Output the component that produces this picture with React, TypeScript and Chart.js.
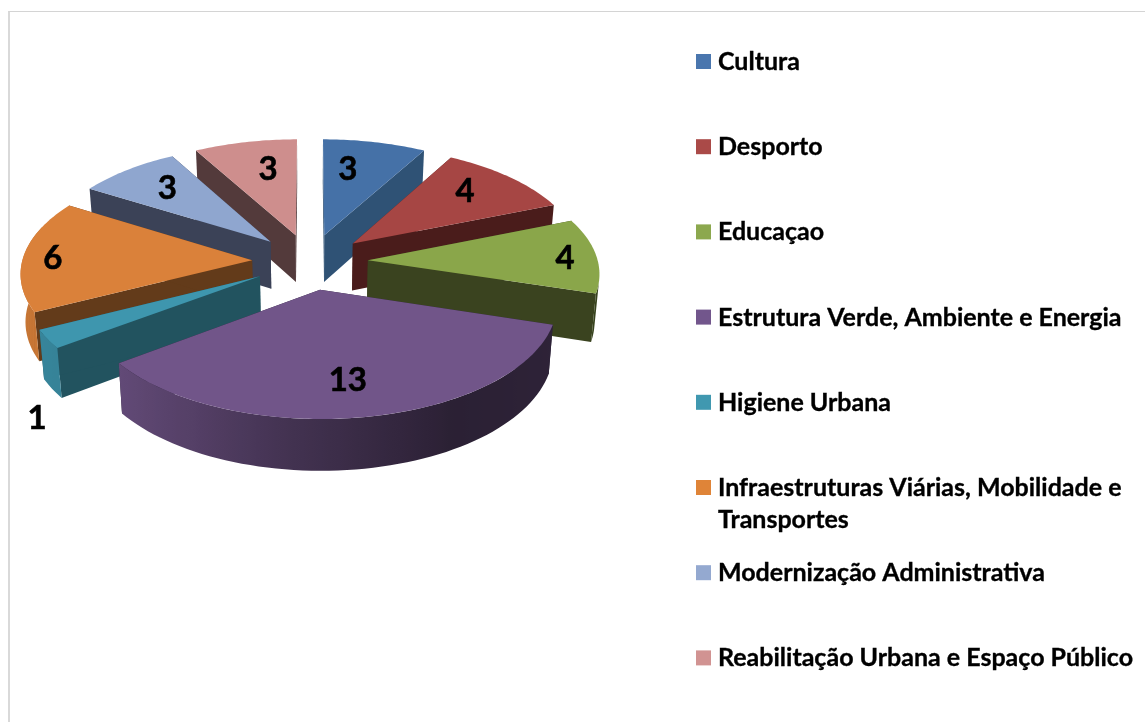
import React, { useEffect, useRef } from "react";
import { Chart, registerables } from "chart.js";

Chart.register(...registerables);

const categories = [
  "Cultura",
  "Desporto",
  "Educaçao",
  "Estrutura Verde, Ambiente e Energia",
  "Higiene Urbana",
  "Infraestruturas Viárias, Mobilidade e Transportes",
  "Modernização Administrativa",
  "Reabilitação Urbana e Espaço Público",
];
const values = [3, 4, 4, 13, 1, 6, 3, 3];
const topColors = ["#4571A7", "#A64644", "#8AA64A", "#715589", "#3E96AE", "#DA813A", "#8FA6CF", "#CE8E8D"];
const legendColors = ["#4A76AE", "#AA4A48", "#8CA84E", "#72568C", "#4098B0", "#DF8438", "#94A9D0", "#D19392"];
const wallColors = ["#2F5275", "#4A1C1B", "#3A431F", "#2B2238", "#22535F", "#633B1A", "#3B4257", "#533A3B"];
const labelAngles = [9.9, 46.2, 88.6, 171.7, 216.6, 271.4, 317.1, 348.5];
const labelRadii = [0.675, 0.735, 0.861, 0.733, 1.383, 0.87, 0.72, 0.68];

const PERSPECTIVE = 0.1;
const TILT = 0.48;
const DEPTH = 47.5;
const SHRINK = 0.017;

const shadeKnots: [number, number][] = [
  [0, 0.42], [90, 0.42], [150, 0.38], [185, 0.58], [210, 0.75], [233, 0.87], [260, 0.92], [360, 0.92],
];

function shadeFactor(deg: number) {
  const d = ((deg % 360) + 360) % 360;
  for (let i = 1; i < shadeKnots.length; i++) {
    const [a, fa] = shadeKnots[i - 1];
    const [b, fb] = shadeKnots[i];
    if (d <= b) return fa + ((fb - fa) * (d - a)) / (b - a);
  }
  return 0.9;
}

function shade(hex: string, f: number) {
  const n = parseInt(hex.slice(1), 16);
  const r = Math.round(((n >> 16) & 255) * f);
  const g = Math.round(((n >> 8) & 255) * f);
  const b = Math.round((n & 255) * f);
  return `rgb(${r},${g},${b})`;
}

const pie3d = {
  id: "pie3d",
  beforeDatasetsDraw(chart: any) {
    const ctx: CanvasRenderingContext2D = chart.ctx;
    const arcs = chart.getDatasetMeta(0).data;
    const slices = arcs.map((arc: any, i: number) => {
      const p = arc.getProps(["x", "y", "startAngle", "endAngle", "outerRadius"], true);
      const a0 = p.startAngle + Math.PI / 2;
      const a1 = p.endAngle + Math.PI / 2;
      const mid = (a0 + a1) / 2;
      const e = arc.options.offset;
      return { i, cx: p.x, cy: p.y, R: p.outerRadius, a0, a1, ax: e * Math.sin(mid), ay: e * Math.cos(mid), color: arc.options.backgroundColor };
    });

    const project = (s: any, wx: number, wy: number, z: number) => {
      const w = 1 / (1 + (PERSPECTIVE * wy) / s.R);
      const m = 1 - SHRINK * z;
      return [s.cx + wx * w * m, s.cy - TILT * wy * w + z * (DEPTH + 30 * (w - 1))];
    };
    const rim = (s: any, a: number, z: number) =>
      project(s, s.ax + s.R * Math.sin(a), s.ay + s.R * Math.cos(a), z);
    const apex = (s: any, z: number) => project(s, s.ax, s.ay, z);

    const poly = (pts: number[][], fill: any) => {
      ctx.beginPath();
      pts.forEach((q, n) => (n ? ctx.lineTo(q[0], q[1]) : ctx.moveTo(q[0], q[1])));
      ctx.closePath();
      ctx.fillStyle = fill;
      ctx.fill();
    };

    const order = [...slices].sort((p: any, q: any) => q.ay - p.ay);
    for (const s of order) {
      const wall = wallColors[s.i];
      poly([apex(s, 0), rim(s, s.a0, 0), rim(s, s.a0, 1), apex(s, 1)], wall);
      poly([apex(s, 0), rim(s, s.a1, 0), rim(s, s.a1, 1), apex(s, 1)], wall);

      // outer wall: only the part of the rim that faces the viewer
      const from = Math.max(s.a0, (100 * Math.PI) / 180);
      const to = Math.min(s.a1, (288 * Math.PI) / 180);
      if (to > from) {
        const steps = Math.max(6, Math.ceil(((to - from) * 180) / Math.PI / 2));
        const upper: number[][] = [];
        const lower: number[][] = [];
        for (let n = 0; n <= steps; n++) {
          const t = from + ((to - from) * n) / steps;
          upper.push(rim(s, t, 0));
          lower.push(rim(s, t, 1));
        }
        const xs = upper.map((q) => q[0]);
        const xMin = Math.min(...xs);
        const xMax = Math.max(...xs);
        const grad = ctx.createLinearGradient(xMin, 0, xMax, 0);
        for (let n = 0; n <= steps; n++) {
          const t = from + ((to - from) * n) / steps;
          const pos = (upper[n][0] - xMin) / Math.max(xMax - xMin, 1);
          grad.addColorStop(Math.min(1, Math.max(0, pos)), shade(s.color, shadeFactor((t * 180) / Math.PI)));
        }
        poly([...upper, ...lower.reverse()], grad);
      }

      const top: number[][] = [apex(s, 0)];
      const topSteps = Math.ceil(((s.a1 - s.a0) * 180) / Math.PI);
      for (let n = 0; n <= topSteps; n++) top.push(rim(s, s.a0 + ((s.a1 - s.a0) * n) / topSteps, 0));
      poly(top, s.color);
    }

    ctx.save();
    ctx.fillStyle = "#000";
    ctx.strokeStyle = "#000";
    ctx.textBaseline = "middle";
    ctx.textAlign = "center";
    ctx.font = "bold 33px Lato";
    ctx.lineWidth = 0.6;
    slices.forEach((s: any) => {
      const a = (labelAngles[s.i] * Math.PI) / 180;
      const r = labelRadii[s.i] * s.R;
      const q = project(s, s.ax + r * Math.sin(a), s.ay + r * Math.cos(a), 0);
      ctx.fillText(String(values[s.i]), q[0], q[1]);
      ctx.strokeText(String(values[s.i]), q[0], q[1]);
    });

    ctx.textAlign = "left";
    ctx.textBaseline = "alphabetic";
    ctx.font = "bold 25px Lato";
    ctx.lineWidth = 0.35;
    const maxWidth = 420;
    chart.data.labels.forEach((label: string, i: number) => {
      const top = 54 + i * 85.2;
      ctx.fillStyle = legendColors[i];
      ctx.fillRect(696, top, 15, 15);
      ctx.fillStyle = "#000";
      const words = label.split(" ");
      const lines: string[] = [];
      let line = "";
      for (const word of words) {
        const next = line ? line + " " + word : word;
        if (ctx.measureText(next).width > maxWidth && line) {
          lines.push(line);
          line = word;
        } else line = next;
      }
      lines.push(line);
      lines.forEach((t, n) => {
        ctx.fillText(t, 718, top + 16 + n * 32);
        ctx.strokeText(t, 718, top + 16 + n * 32);
      });
    });
    ctx.restore();
    return false;
  },
};

export default function App() {
  const ref = useRef<HTMLCanvasElement | null>(null);
  useEffect(() => {
    const chart = new Chart(ref.current as HTMLCanvasElement, {
      type: "pie",
      data: {
        labels: categories,
        datasets: [
          {
            data: values,
            backgroundColor: topColors,
            borderWidth: 0,
            offset: 58,
            radius: 230,
          } as any,
        ],
      },
      options: {
        responsive: false,
        animation: false,
        layout: { padding: { left: 0, right: 525, top: 0, bottom: 199 } },
        plugins: { legend: { display: false }, tooltip: { enabled: false }, title: { display: false } },
      },
      plugins: [pie3d],
    } as any);
    return () => chart.destroy();
  }, []);
  return (
    <div style={{ position: "fixed", left: 0, top: 0, width: 1145, height: 722, overflow: "hidden", background: "#fff" }}>
      <div
        style={{
          position: "absolute",
          left: 8,
          top: 11,
          width: 1200,
          height: 800,
          borderLeft: "2px solid #d9d9d9",
          borderTop: "1px solid #d4d4d4",
        }}
      />
      <canvas ref={ref} width={1145} height={722} style={{ position: "absolute", left: 0, top: 0, display: "block" }} />
    </div>
  );
}
